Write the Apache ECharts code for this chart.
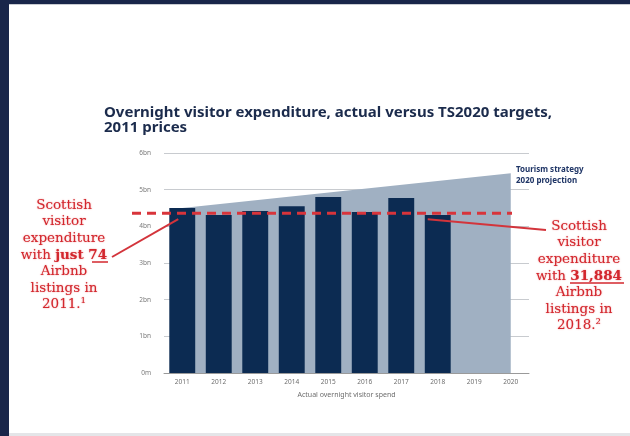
<!DOCTYPE html>
<html>
<head>
<meta charset="utf-8">
<script src="https://cdn.jsdelivr.net/npm/echarts@6/dist/echarts.min.js"></script>
<style>
  html, body { margin: 0; padding: 0; background: #ffffff; }
  #wrap { position: relative; width: 630px; height: 436px; overflow: hidden; background: #ffffff; }
  #chart { position: absolute; left: 0; top: 0; width: 630px; height: 436px; }
  .frame { position: absolute; background: #19264a; }
</style>
</head>
<body>
<div id="wrap">
  <div id="chart"></div>
  <div class="frame" style="left:0;top:0;width:630px;height:4px;"></div>
  <div class="frame" style="left:0;top:0;width:9px;height:436px;"></div>
  <div style="position:absolute;left:9px;top:4px;width:621px;height:1px;background:#c9ccd2;"></div>
  <div style="position:absolute;left:9px;top:433px;width:621px;height:3px;background:#e4e5e8;"></div>
</div>
<script>
// ---- data ----
const years = ['2011', '2012', '2013', '2014', '2015', '2016', '2017', '2018', '2019', '2020'];
const actualSpend = [4.50, 4.31, 4.42, 4.55, 4.80, 4.39, 4.77, 4.31, null, null];
const ts2020Projection = [4.50, null, null, null, null, null, null, null, null, 5.45];
const level2011 = 4.36;
const yTickLabels = ['0m', '1bn', '2bn', '3bn', '4bn', '5bn', '6bn'];
const titleText = 'Overnight visitor expenditure, actual versus TS2020 targets,\n2011 prices';
const xAxisName = 'Actual overnight visitor spend';
const projectionLabel = 'Tourism strategy\n2020 projection';
const leftNote = 'Scottish\nvisitor\nexpenditure\nwith {b|just 74}\nAirbnb\nlistings in\n2011.\u00b9';
const rightNote = 'Scottish\nvisitor\nexpenditure\nwith {b|31,884}\nAirbnb\nlistings in\n2018.\u00b2';

const chart = echarts.init(document.getElementById('chart'), null, { renderer: 'canvas' });

const red = '#d3272e';
const navy = '#0c2b52';
const noteStyle = {
  fontFamily: 'DejaVu Serif',
  fontSize: 13.5,
  lineHeight: 16.6,
  fill: red,
  textAlign: 'center',
  textVerticalAlign: 'middle',
  textShadowColor: 'rgba(220,60,60,0.6)',
  textShadowBlur: 1.5,
  rich: {
    b: { fontFamily: 'DejaVu Serif', fontSize: 13.5, lineHeight: 16.6, fontWeight: 'bold', color: red }
  }
};

const option = {
  animation: false,
  backgroundColor: 'transparent',
  title: {
    text: titleText,
    left: 99,
    top: 100,
    textStyle: {
      fontFamily: 'Noto Sans',
      fontWeight: 'bold',
      fontSize: 15,
      lineHeight: 15,
      color: '#1b2b4c'
    }
  },
  grid: [
    { left: 164, right: 101, top: 153, bottom: 63 },
    { left: 132, right: 118, top: 153, bottom: 63 }
  ],
  xAxis: [
    {
      type: 'category',
      gridIndex: 0,
      data: years,
      axisLine: { lineStyle: { color: '#9a9a9a', width: 1 } },
      axisTick: { show: false },
      axisLabel: { fontFamily: 'Noto Sans', fontSize: 6.5, color: '#6d6d6d', margin: 6 },
      name: xAxisName,
      nameLocation: 'middle',
      nameGap: 18,
      nameTextStyle: { fontFamily: 'Noto Sans', fontSize: 7, color: '#6d6d6d' }
    },
    { type: 'value', gridIndex: 1, min: 0, max: 1, show: false }
  ],
  yAxis: [
    {
      type: 'value',
      gridIndex: 0,
      min: 0,
      max: 6,
      interval: 1,
      axisLine: { show: false },
      axisTick: { show: false },
      axisLabel: {
        fontFamily: 'Noto Sans', fontSize: 6.5, color: '#7a7a7a', margin: 13,
        formatter: function (v) { return yTickLabels[Math.round(v)]; }
      },
      splitLine: { lineStyle: { color: '#c8cbcf', width: 1 } }
    },
    { type: 'value', gridIndex: 1, min: 0, max: 6, show: false }
  ],
  series: [
    {
      name: 'TS2020 projection',
      type: 'line',
      xAxisIndex: 0, yAxisIndex: 0,
      data: ts2020Projection,
      connectNulls: true,
      symbol: 'none',
      lineStyle: { width: 0, color: '#a0b0c2' },
      areaStyle: { color: '#a0b0c2', opacity: 1 },
      z: 1
    },
    {
      name: 'Actual overnight visitor spend',
      type: 'bar',
      xAxisIndex: 0, yAxisIndex: 0,
      data: actualSpend,
      barWidth: '71%',
      itemStyle: { color: navy },
      z: 2
    },
    {
      name: '2011 level',
      type: 'line',
      xAxisIndex: 1, yAxisIndex: 1,
      data: [[0, level2011], [1, level2011]],
      symbol: 'none',
      lineStyle: { color: '#d8343b', width: 3, type: [9, 6] },
      z: 5
    }
  ]
};
chart.setOption(option);

// annotation graphics anchored on the bars via the chart's own scales
const p2011 = chart.convertToPixel({ gridIndex: 0 }, ['2011', level2011]);
const p2018 = chart.convertToPixel({ gridIndex: 0 }, ['2018', level2011]);

chart.setOption({
  graphic: [
    {
      type: 'text', left: 516, top: 164, z: 10,
      style: { text: projectionLabel, fontFamily: 'Noto Sans', fontWeight: 'bold', fontSize: 8, lineHeight: 11, fill: '#1f3566' }
    },
    {
      type: 'line', z: 9,
      shape: { x1: 112, y1: 257, x2: p2011[0] - 4, y2: p2011[1] + 6 },
      style: { stroke: '#d3343b', lineWidth: 2 }
    },
    {
      type: 'line', z: 9,
      shape: { x1: p2018[0] - 10, y1: p2018[1] + 6, x2: 546, y2: 230 },
      style: { stroke: '#d3343b', lineWidth: 2 }
    },
    {
      type: 'text', x: 64, y: 255, z: 10,
      style: Object.assign({ text: leftNote }, noteStyle)
    },
    {
      type: 'text', x: 579, y: 276, z: 10,
      style: Object.assign({ text: rightNote }, noteStyle)
    },
    {
      type: 'line', z: 10,
      shape: { x1: 92, y1: 262, x2: 108, y2: 262 },
      style: { stroke: red, lineWidth: 1.5 }
    },
    {
      type: 'line', z: 10,
      shape: { x1: 570, y1: 283, x2: 624, y2: 283 },
      style: { stroke: red, lineWidth: 1.5 }
    }
  ]
});
</script>
</body>
</html>
